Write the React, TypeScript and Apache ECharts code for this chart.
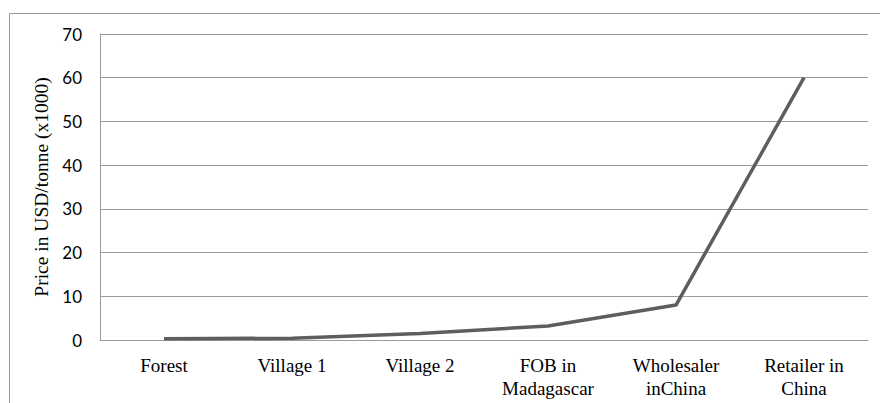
import React, { useEffect, useRef } from "react";
import * as echarts from "echarts";

const categories = ["Forest", "Village 1", "Village 2", "FOB in\nMadagascar", "Wholesaler\ninChina", "Retailer in\nChina"];
const prices = [0.3, 0.4, 1.5, 3.2, 8, 60];
const yTicks = { min: 0, max: 70, interval: 10 };

const SERIF = "'Liberation Serif', 'Times New Roman', serif";

export default function App() {
  const ref = useRef<HTMLDivElement>(null);
  useEffect(() => {
    document.body.style.margin = "0";
    const chart = echarts.init(ref.current!, null, { renderer: "svg" });
    chart.setOption({
      animation: false,
      backgroundColor: "#ffffff",
      textStyle: { fontFamily: SERIF },
      graphic: [
        {
          type: "rect",
          shape: { x: 9.5, y: 13.5, width: 900, height: 420 },
          style: { fill: "none", stroke: "#9a9a9a", lineWidth: 1 },
          silent: true,
        },
      ],
      grid: { left: 100, right: 12, top: 34, bottom: 63 },
      xAxis: {
        type: "category",
        data: categories,
        boundaryGap: true,
        axisLine: { lineStyle: { color: "#9a9a9a", width: 1 } },
        axisTick: { show: false },
        axisLabel: {
          color: "#000",
          fontFamily: SERIF,
          fontSize: 19,
          lineHeight: 23,
          margin: 14,
          interval: 0,
        },
      },
      yAxis: {
        type: "value",
        min: yTicks.min,
        max: yTicks.max,
        interval: yTicks.interval,
        name: "Price in USD/tonne (x1000)",
        nameLocation: "middle",
        nameGap: 49,
        nameTextStyle: { color: "#000", fontFamily: SERIF, fontSize: 19.5 },
        axisLine: { show: true, lineStyle: { color: "#9a9a9a", width: 1 } },
        axisTick: { show: false },
        axisLabel: { color: "#000", fontFamily: "Lato", fontSize: 17, margin: 18 },
        splitLine: { lineStyle: { color: "#9a9a9a", width: 1 } },
      },
      series: [
        {
          type: "line",
          data: prices,
          symbol: "none",
          lineStyle: { color: "#5e5e5e", width: 3.5 },
        },
      ],
    });
    return () => chart.dispose();
  }, []);
  return <div ref={ref} style={{ position: "absolute", left: 0, top: 0, width: 880, height: 403 }} />;
}
